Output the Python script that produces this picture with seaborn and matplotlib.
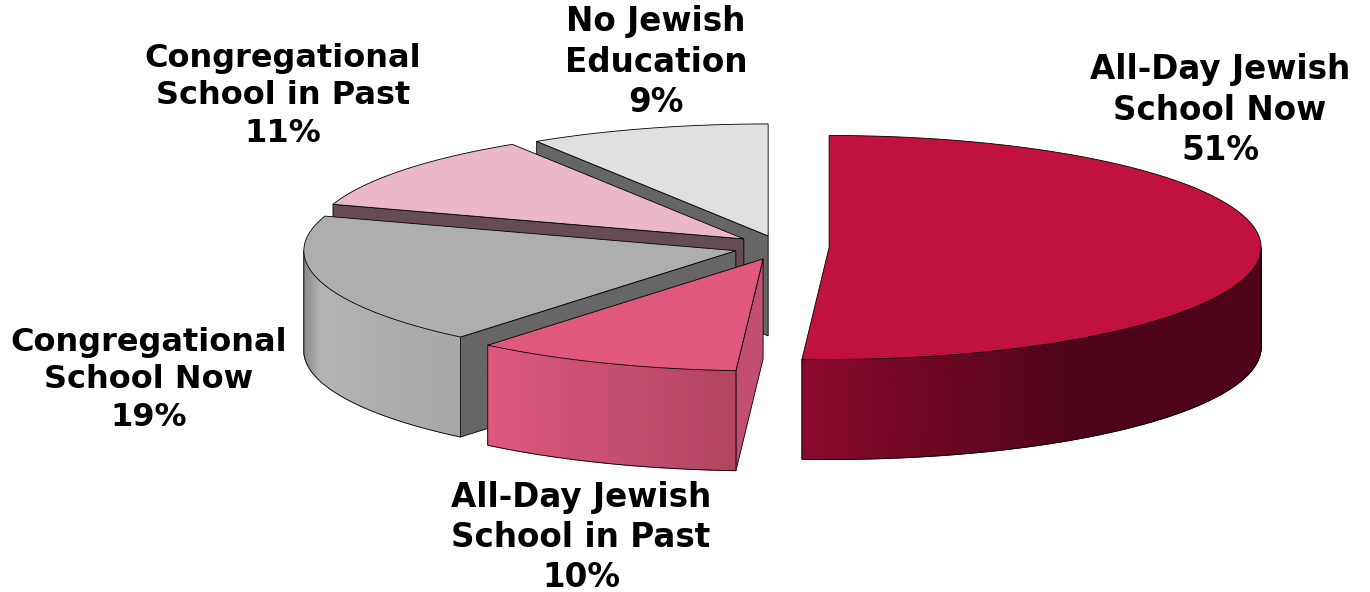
import numpy as np
import seaborn as sns
import matplotlib.pyplot as plt
from matplotlib.colors import LinearSegmentedColormap

# chart data, clockwise from 12 o'clock
names = ["All-Day Jewish\nSchool Now", "All-Day Jewish\nSchool in Past",
         "Congregational\nSchool Now", "Congregational\nSchool in Past",
         "No Jewish\nEducation"]
shares = [51, 10, 19, 11, 9]

# look of each slice
explode = [0.116, 0.10, 0.104, 0.103, 0.09]
top_colors = ["#C0113F", "#E0587E", "#AEAEAE", "#EAB8C6", "#E0E0E0"]
wall_colors = ["#7A0A2A", "#C24F72", "#666666", "#654C55", "#666666"]
side_stops = [[(0, "#8B0A2E"), (0.58, "#50041A"), (1, "#50041A")],
              [(0, "#DE5880"), (1, "#B04562")],
              [(0, "#8C8C8C"), (0.1, "#B4B4B4"), (0.5, "#ADADAD"), (1, "#A8A8A8")],
              [(0, "#EAB8C6"), (1, "#EAB8C6")],
              [(0, "#E0E0E0"), (1, "#E0E0E0")]]
label_xy = [(1220, 110), (581, 537.5), (149, 380), (283, 96), (656, 62)]
label_sizes = [23.5, 23.5, 23, 23, 23.5]

cx, cy = 779, 247      # pie centre in pixels
rx, ry = 432, 112      # ellipse of the tilted top
ry_explode = 128
depth = 100
edge = dict(color="black", lw=0.6, solid_joinstyle="miter")

sns.set_theme(style="white")
plt.rcParams['font.family'] = ['DejaVu Sans']

fig = plt.figure(figsize=(13.7, 5.92), dpi=100)
ax = fig.add_axes([0, 0, 1, 1])
ax.set_xlim(0, 1370)
ax.set_ylim(592, 0)
ax.axis("off")

fracs = np.array(shares) / sum(shares) * 2 * np.pi
ends = np.cumsum(fracs)
starts = ends - fracs


def rim(x0, y0, a):
    return x0 + rx * np.sin(a), y0 - ry * np.cos(a)


# back to front, so nearer slices cover the walls behind them
order = [4, 3, 2, 1, 0]
for z, i in enumerate(order):
    a0, a1 = starts[i], ends[i]
    mid = (a0 + a1) / 2
    x0 = cx + explode[i] * rx * np.sin(mid)
    y0 = cy - explode[i] * ry_explode * np.cos(mid)

    # flat cut wall, only the leading edge on the left half faces us
    if np.sin(a0) < -0.01:
        ex, ey = rim(x0, y0, a0)
        wx = [x0, ex, ex, x0]
        wy = [y0, ey, ey + depth, y0 + depth]
        ax.fill(wx, wy, facecolor=wall_colors[i], edgecolor="black", lw=0.6, zorder=z * 10 + 1)

    # curved outer side, only the part that faces the viewer
    lo, hi = max(a0, np.pi / 2), min(a1, 3 * np.pi / 2)
    if hi > lo:
        t = np.linspace(lo, hi, 120)
        sx, sy = rim(x0, y0, t)
        X = np.vstack([sx, sx])
        Y = np.vstack([sy, sy + depth])
        pos = (sx - sx.min()) / (sx.max() - sx.min())
        C = np.vstack([pos, pos])
        cmap = LinearSegmentedColormap.from_list("side%d" % i, side_stops[i])
        ax.pcolormesh(X, Y, C, shading="gouraud", cmap=cmap, vmin=0, vmax=1, zorder=z * 10 + 2)
        ax.plot(np.r_[sx[0], sx, sx[-1]], np.r_[sy[0], sy + depth, sy[-1]], zorder=z * 10 + 3, **edge)

    # top face
    t = np.linspace(a0, a1, 200)
    tx, ty = rim(x0, y0, t)
    ax.fill(np.r_[x0, tx], np.r_[y0, ty], facecolor=top_colors[i], edgecolor="black",
            lw=0.6, joinstyle="miter", zorder=z * 10 + 4)

for name, val, (lx, ly), fs in zip(names, shares, label_xy, label_sizes):
    ax.text(lx, ly, "%s\n%d%%" % (name, val), ha="center", va="center",
            fontsize=fs, fontweight="bold", color="black", linespacing=1.27, zorder=100)

fig.savefig("out.png", dpi=100, facecolor="white")
